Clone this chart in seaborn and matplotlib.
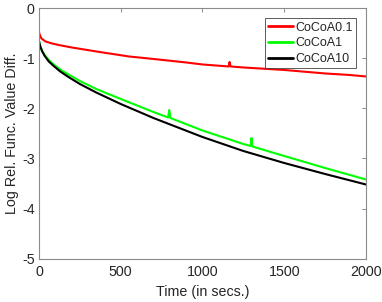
import numpy as np
import pandas as pd
import matplotlib
matplotlib.use("Agg")
import matplotlib.pyplot as plt
import seaborn as sns

# ---- data ----
t_red = [0, 5, 15, 40, 80, 120, 200, 370, 550, 700, 900, 1000, 1160, 1166, 1172, 1250, 1500, 1750, 1900, 2000]
v_red = [-0.47, -0.53, -0.60, -0.66, -0.70, -0.73, -0.78, -0.87, -0.96, -1.01, -1.08, -1.12, -1.16, -1.07, -1.16, -1.18, -1.23, -1.30, -1.33, -1.36]

t_green = [0, 2, 5, 10, 20, 35, 60, 90, 130, 180, 250, 350, 500, 700, 790, 797, 804,
           1000, 1250, 1294, 1300, 1306, 1500, 1750, 2000]
v_green = [-0.65, -0.68, -0.71, -0.77, -0.85, -0.93, -1.03, -1.12, -1.22, -1.32, -1.45, -1.61, -1.81, -2.07, -2.18, -2.03, -2.19,
           -2.44, -2.71, -2.75, -2.59, -2.76, -2.95, -3.19, -3.42]

t_black = [0, 2, 5, 10, 20, 35, 60, 90, 130, 180, 250, 350, 500, 700, 1000, 1250, 1500, 1750, 2000]
v_black = [-0.65, -0.68, -0.72, -0.78, -0.86, -0.95, -1.06, -1.15, -1.26, -1.37, -1.51, -1.68, -1.91, -2.19, -2.57, -2.85, -3.09, -3.31, -3.52]

series_names = ["CoCoA0.1", "CoCoA1", "CoCoA10"]
colors = ["#ff0000", "#00ff00", "#000000"]

x_ticks = [0, 500, 1000, 1500, 2000]
y_ticks = [0, -1, -2, -3, -4, -5]
x_label = "Time (in secs.)"
y_label = "Log Rel. Func. Value Diff."

df = pd.concat([
    pd.DataFrame({"t": t_red, "v": v_red, "s": series_names[0]}),
    pd.DataFrame({"t": t_green, "v": v_green, "s": series_names[1]}),
    pd.DataFrame({"t": t_black, "v": v_black, "s": series_names[2]}),
], ignore_index=True)

sns.set_style("white")
plt.rcParams["font.family"] = ["Liberation Sans", "DejaVu Sans"]
plt.rcParams["axes.unicode_minus"] = False

fig = plt.figure(figsize=(3.82, 3.02), dpi=100)
ax = fig.add_axes([0.102, 0.144, 0.856, 0.828])

sns.lineplot(data=df, x="t", y="v", hue="s", palette=dict(zip(series_names, colors)),
             estimator=None, sort=False, linewidth=1.5, ax=ax)

ax.set_xlim(0, 2000)
ax.set_ylim(-5, 0)
ax.set_xticks(x_ticks)
ax.set_yticks(y_ticks)
ax.set_xlabel(x_label, fontsize=10.3, color="#262626", labelpad=4)
ax.set_ylabel(y_label, fontsize=10.3, color="#262626", labelpad=2)

for sp in ax.spines.values():
    sp.set_visible(True)
    sp.set_color("#8a8a8a")
    sp.set_linewidth(0.8)
ax.tick_params(direction="in", top=True, right=True, length=3, width=0.7,
               color="#8a8a8a", labelsize=10.3, labelcolor="#262626")
ax.tick_params(axis="x", pad=5)
ax.tick_params(axis="y", pad=3)

leg = ax.legend(loc="upper right", fontsize=9, frameon=True, fancybox=False,
                handlelength=2.0, handletextpad=0.2, borderpad=0.25,
                labelspacing=0.3, borderaxespad=0.8)
leg.get_frame().set_edgecolor("#333333")
leg.get_frame().set_linewidth(0.7)
for line in leg.get_lines():
    line.set_linewidth(2.0)

fig.savefig("out.png", dpi=100)
